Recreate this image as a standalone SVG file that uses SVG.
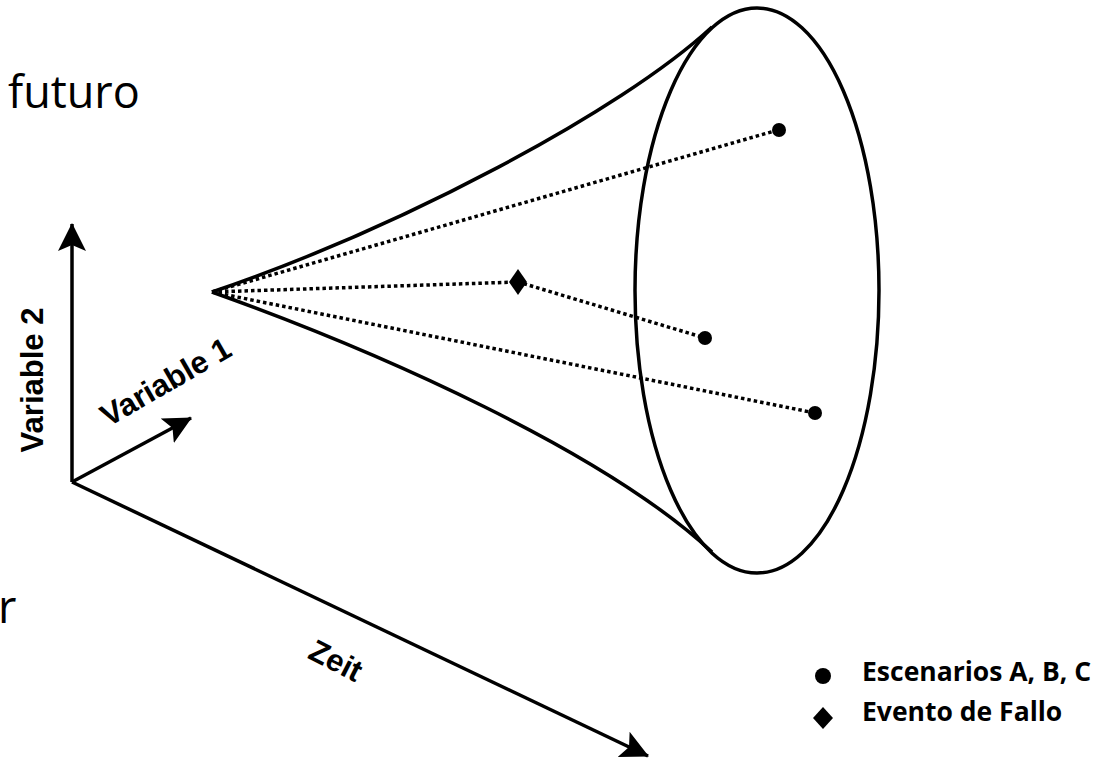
<svg xmlns="http://www.w3.org/2000/svg" width="1101" height="762" viewBox="0 0 1101 762">
<style>
.solid{fill:none;stroke:#000;stroke-width:3.5}
.axis{fill:none;stroke:#000;stroke-width:3.5}
.dot{fill:none;stroke:#000;stroke-width:3.5;stroke-dasharray:3.5 3}
.lbl{font-family:"Liberation Sans",Arial,sans-serif;font-weight:bold;font-size:31px;fill:#000}
.leg{font-family:"Open Sans","Noto Sans",sans-serif;font-weight:bold;font-size:26.5px;fill:#000}
.big{font-family:"Open Sans","Noto Sans",sans-serif;font-size:45px;fill:#000}
</style>
<defs>
<marker id="arr" viewBox="0 0 28 28" refX="27" refY="14" markerWidth="28" markerHeight="28" markerUnits="userSpaceOnUse" orient="auto">
<path d="M0,0 L28,14 L0,28 L6,14 Z" fill="#000"/>
</marker>
</defs>
<g id="bg-text">
<text class="big" x="8" y="108">futuro</text>
<text class="big" x="-2" y="623">r</text>
</g>
<g id="axes">
<line class="axis" x1="72" y1="482" x2="72" y2="224" marker-end="url(#arr)"/>
<line class="axis" x1="72" y1="482" x2="191" y2="418" marker-end="url(#arr)"/>
<line class="axis" x1="72" y1="482" x2="648" y2="756" marker-end="url(#arr)"/>
<text class="lbl" text-anchor="middle" transform="translate(43,380) rotate(-90)">Variable 2</text>
<text class="lbl" text-anchor="middle" transform="translate(171,391) rotate(-30)">Variable 1</text>
<text class="lbl" text-anchor="middle" transform="translate(331,670) rotate(27)">Zeit</text>
</g>
<g id="cone">
<path class="solid" d="M212,292 C400,228 620,112 712,27"/>
<path class="solid" d="M212,292 C380,352 605,452 712,552"/>
<ellipse class="solid" cx="757" cy="290.5" rx="122" ry="282.5"/>
</g>
<g id="connectors">
<polyline class="dot" points="212,292 778,130"/>
<polyline class="dot" points="212,292 518,282 705,338"/>
<polyline class="dot" points="212,292 815,413"/>
</g>
<g id="scenario-A"><circle cx="779" cy="130" r="7"/></g>
<g id="scenario-B"><circle cx="705" cy="338" r="7"/></g>
<g id="scenario-C"><circle cx="815" cy="413" r="7"/></g>
<g id="failure-event"><polygon points="518,269 527,282 518,295 509,282"/></g>
<g id="legend">
<circle cx="823" cy="676" r="8"/>
<polygon points="823,707 833,718 823,729 813,718"/>
<text class="leg" x="862" y="681">Escenarios A, B, C</text>
<text class="leg" x="862" y="721">Evento de Fallo</text>
</g>
</svg>
